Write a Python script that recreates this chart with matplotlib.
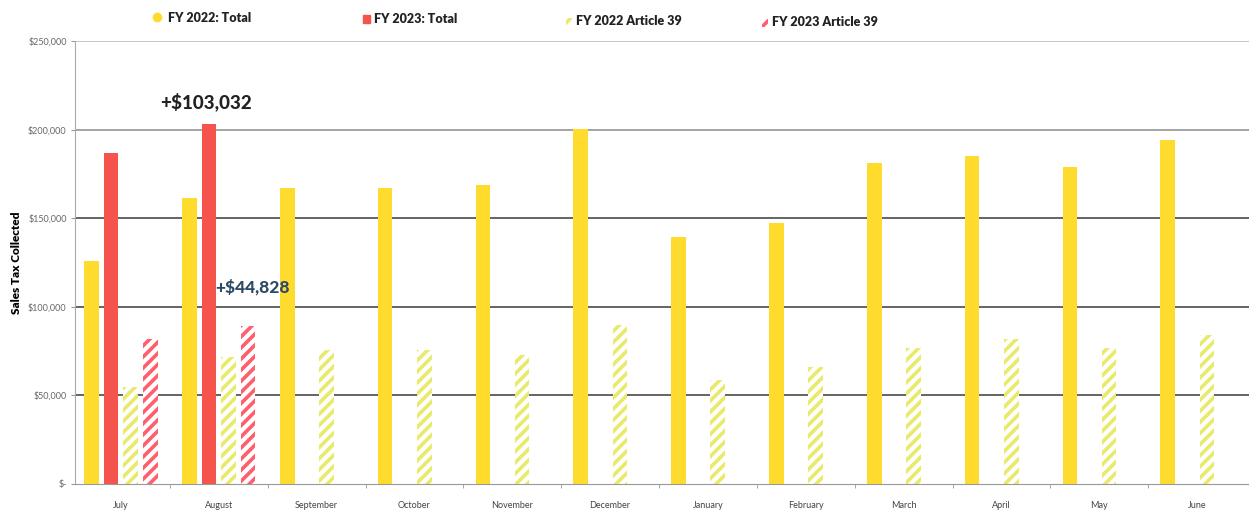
import matplotlib.pyplot as plt
import numpy as np
from matplotlib.lines import Line2D
from matplotlib.patches import Rectangle
from matplotlib.ticker import FixedLocator

months = ['July', 'August', 'September', 'October', 'November', 'December',
          'January', 'February', 'March', 'April', 'May', 'June']
fy22_total = [125600, 161600, 167000, 167000, 169000, 200500,
              139500, 147500, 181000, 185000, 179000, 194000]
fy23_total = [187000, 203232]
fy22_art39 = [54700, 71500, 75500, 75500, 73000, 90000,
              58500, 66000, 77000, 82000, 76500, 84000]
fy23_art39 = [81800, 89228]

yticks = [0, 50000, 100000, 150000, 200000, 250000]
ytick_labels = ['$-', '$50,000', '$100,000', '$150,000', '$200,000', '$250,000']

YELLOW = '#FFDB2E'
RED = '#F4544C'
YELLOW_HATCH = '#E9E96A'
RED_HATCH = '#FF5E6C'

plt.rcParams['font.family'] = ['Lato', 'DejaVu Sans']
plt.rcParams['hatch.linewidth'] = 2.6

fig = plt.figure(figsize=(12.49, 5.14), dpi=100)
ax = fig.add_axes([0.060, 0.0584, 0.940, 0.8616])

x = np.arange(len(months))
n23 = len(fy23_total)
w = 0.15

ax.bar(x - 0.3, fy22_total, w, color=YELLOW, zorder=2)
ax.bar(x[:n23] - 0.1, fy23_total, w, color=RED, zorder=2)
ax.bar(x + 0.1, fy22_art39, w, facecolor='white', edgecolor=YELLOW_HATCH,
       hatch='///', linewidth=0, zorder=2)
ax.bar(x[:n23] + 0.3, fy23_art39, w, facecolor='white', edgecolor=RED_HATCH,
       hatch='///', linewidth=0, zorder=2)

ax.set_xlim(-0.47, 11.53)
ax.set_ylim(0, 250000)

ax.set_yticks(yticks)
ax.set_yticklabels(ytick_labels, fontsize=6.5, color='#666666')
ax.tick_params(axis='y', length=3, color='#999999', pad=3)

ax.set_xticks(x)
ax.set_xticklabels(months, fontsize=6.5, color='#444444')
ax.tick_params(axis='x', which='major', length=0, pad=12)
ax.xaxis.set_minor_locator(FixedLocator(x[:-1] + 0.5))
ax.tick_params(axis='x', which='minor', length=3, color='#999999')

ax.set_ylabel('Sales Tax Collected', fontsize=8.5, fontweight='heavy',
              labelpad=4)

for s in ['top', 'right']:
    ax.spines[s].set_visible(False)
ax.spines['left'].set_color('#aaaaaa')
ax.spines['bottom'].set_color('#999999')

ax.set_axisbelow(True)
ax.yaxis.grid(True)
grid_colors = ['none', '#3a3a3a', '#3a3a3a', '#3a3a3a', '#8a8a8a', '#b5b5b5']
for gl, c in zip(ax.get_ygridlines(), grid_colors):
    gl.set_color(c)
    gl.set_linewidth(1.1)

# cumulative year-over-year gains for the first two months
total_gain = sum(b - a for a, b in zip(fy22_total, fy23_total))
art39_gain = sum(b - a for a, b in zip(fy22_art39, fy23_art39))
ax.text(0.87, 215500, f'+${total_gain:,}', fontsize=13.5, fontweight='black',
        color='#222222', ha='center', va='center', zorder=5)
ax.text(1.34, 111000, f'+${art39_gain:,}', fontsize=12.5, fontweight='black',
        color='#2C4A66', ha='center', va='center', zorder=5)

# legend row across the top
W, H = 1249, 514


def fx(px):
    return px / W


def fy(py):
    return 1 - py / H


fig.add_artist(Line2D([fx(157)], [fy(17)], marker='o', markersize=6,
                      color=YELLOW, transform=fig.transFigure))
fig.add_artist(Rectangle((fx(363), fy(23)), fx(7), 8 / H, color=RED,
                         transform=fig.transFigure))
fig.add_artist(Rectangle((fx(566), fy(26)), fx(6), 8 / H, facecolor='white',
                         edgecolor=YELLOW_HATCH, hatch='///', linewidth=0,
                         transform=fig.transFigure))
fig.add_artist(Rectangle((fx(762), fy(27)), fx(6), 8 / H, facecolor='white',
                         edgecolor=RED_HATCH, hatch='///', linewidth=0,
                         transform=fig.transFigure))

legend_items = [('FY 2022: Total', 168, 18), ('FY 2023: Total', 374, 19),
                ('FY 2022 Article 39', 576, 21), ('FY 2023 Article 39', 772, 22)]
for label, px, py in legend_items:
    fig.text(fx(px), fy(py), label, fontsize=9, fontweight='heavy',
             color='#222222', ha='left', va='center')

fig.savefig('out.png', dpi=100)
